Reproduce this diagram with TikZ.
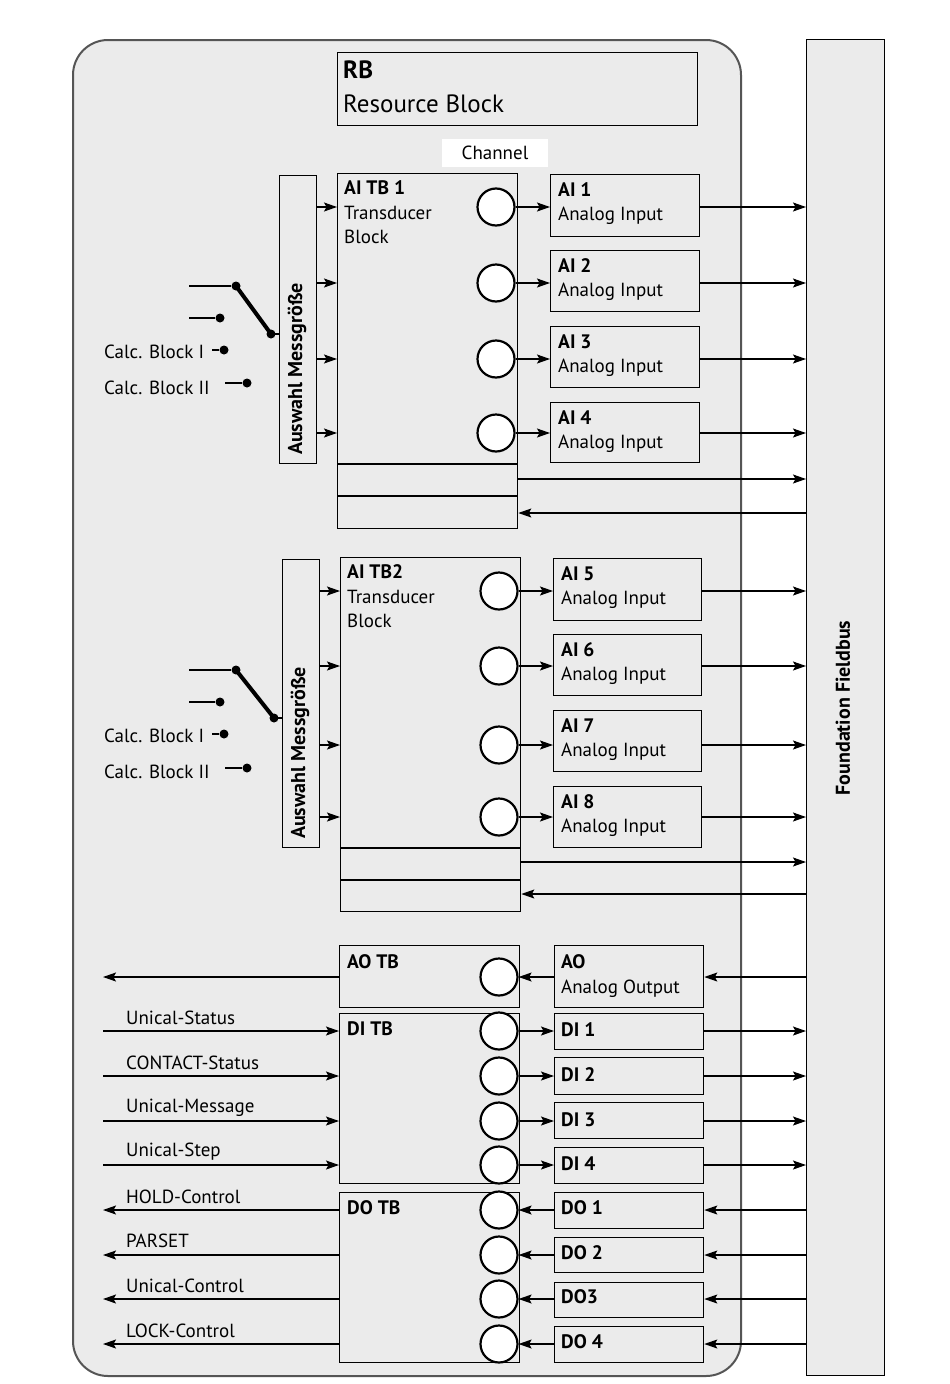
\documentclass[tikz,border=0pt]{standalone}
\usepackage{fontspec}
\setmainfont{PT Sans}
\usetikzlibrary{arrows.meta,calc}
\definecolor{bg}{HTML}{EBEBEB}
\definecolor{rim}{HTML}{555555}
\newcommand\mkblk[5]{\node[blk, minimum width=#4pt, minimum height=#5pt] (#1) at (#2,#3) {};}
\begin{document}
\begin{tikzpicture}[x=1pt,y=-1pt,
  every node/.style={font=\fontsize{19}{22}\selectfont},
  blk/.style={draw=black, line width=1.3pt, rectangle, inner sep=0pt, anchor=north west},
  port/.style={draw=black, fill=white, circle, line width=2.2pt, minimum size=37pt, inner sep=0pt},
  arr/.style={line width=1.2pt, -{Stealth[length=13pt,width=9pt,inset=2.5pt]}},
  txt/.style={anchor=west, inner sep=0pt},
  bt/.style={anchor=west, inner sep=0pt, font=\fontsize{19.5}{22}\selectfont\bfseries},
  rt/.style={rotate=90, font=\fontsize{20}{22}\selectfont\bfseries},
  dot/.style={circle, fill=black, inner sep=0pt, minimum size=9pt},
  wire/.style={line width=2pt},
  lever/.style={line width=4pt},
  hl/.style={line width=1.3pt},
]
\useasboundingbox (0,0) rectangle (950,1384);
\fill[white] (0,0) rectangle (950,1384);

% device and fieldbus
\node[draw=rim, line width=2pt, fill=bg, rounded corners=35pt, anchor=north west,
      minimum width=668pt, minimum height=1336pt, inner sep=0pt] (dev) at (72,39) {};
\node[blk, fill=bg, minimum width=78pt, minimum height=1336pt] (fb) at (806,39) {};
\node[rt] (fbt) at (843,708) {Foundation Fieldbus};

% resource block and channel
\mkblk{rb}{337}{52}{360}{73}
\node[bt, font=\fontsize{25}{28}\selectfont\bfseries] (rbt) at (343,70) {RB};
\node[txt, font=\fontsize{25}{28}\selectfont] (rbt2) at (343,104) {Resource Block};
\node[fill=white, minimum width=106pt, minimum height=28pt, inner sep=0pt] (chan) at (495,153) {Channel};

% ---------- group 1 ----------
\mkblk{tb1}{337}{173}{180}{355}
\mkblk{sel1}{279}{175}{37}{288}
\node[rt] (sel1t) at (297,369) {Auswahl Messgröße};
\node[bt] (tb1a) at (344,188) {AI TB 1};
\node[txt] (tb1b) at (344,213) {Transducer};
\node[txt] (tb1c) at (344,237) {Block};
\coordinate (h11) at (0,464);
\coordinate (h12) at (0,496);
\draw[hl] (tb1.west |- h11) -- (tb1.east |- h11);
\draw[hl] (tb1.west |- h12) -- (tb1.east |- h12);

\mkblk{ai1}{550}{174}{149}{62}
\mkblk{ai2}{550}{250}{149}{61}
\mkblk{ai3}{550}{326}{149}{61}
\mkblk{ai4}{550}{402}{149}{60}
\foreach \n/\y in {1/174,2/250,3/326,4/402}{
  \node[bt] (ai\n a) at (558,\y+16) {AI \n};
  \node[txt] (ai\n b) at (558,\y+42) {Analog Input};
}
\node[port] (c1) at (496,207) {};
\node[port] (c2) at (496,283) {};
\node[port] (c3) at (496,359) {};
\node[port] (c4) at (496,433) {};
\foreach \n in {1,2,3,4}{
  \draw[arr] (c\n.east) -- (ai\n.west |- c\n);
  \draw[arr] (ai\n.east |- c\n) -- (fb.west |- c\n);
  \draw[arr] (sel1.east |- c\n) -- (tb1.west |- c\n);
}
\coordinate (r11) at (0,479);
\coordinate (r12) at (0,513);
\draw[arr] (tb1.east |- r11) -- (fb.west |- r11);
\draw[arr] (fb.west |- r12) -- (tb1.east |- r12);

% switch 1
\coordinate (s1a) at (189,286);
\coordinate (s1b) at (189,318);
\coordinate (s1c) at (212,350);
\coordinate (s1d) at (225,383);
\node[dot] (d11) at (236,286) {};
\node[dot] (d12) at (220,318) {};
\node[dot] (d13) at (224,350) {};
\node[dot] (d14) at (247,383) {};
\node[dot] (d1p) at (271,334) {};
\draw[wire] (s1a) -- (d11);
\draw[wire] (s1b) -- (d12);
\draw[wire] (s1c) -- (d13);
\draw[wire] (s1d) -- (d14);
\draw[lever] (d11.center) -- (d1p.center);
\draw[wire] (d1p.center) -- (sel1.west |- d1p);
\node[txt] (cb11) at (104,352) {Calc. Block I};
\node[txt] (cb12) at (104,388) {Calc. Block II};

% ---------- group 2 ----------
\mkblk{tb2}{340}{557}{180}{354}
\mkblk{sel2}{282}{559}{37}{288}
\node[rt] (sel2t) at (300,753) {Auswahl Messgröße};
\node[bt] (tb2a) at (347,572) {AI TB2};
\node[txt] (tb2b) at (347,597) {Transducer};
\node[txt] (tb2c) at (347,621) {Block};
\coordinate (h21) at (0,848);
\coordinate (h22) at (0,880);
\draw[hl] (tb2.west |- h21) -- (tb2.east |- h21);
\draw[hl] (tb2.west |- h22) -- (tb2.east |- h22);

\mkblk{ai5}{553}{558}{148}{62}
\mkblk{ai6}{553}{634}{148}{61}
\mkblk{ai7}{553}{710}{148}{61}
\mkblk{ai8}{553}{786}{148}{61}
\foreach \n/\y in {5/558,6/634,7/710,8/786}{
  \node[bt] (ai\n a) at (561,\y+16) {AI \n};
  \node[txt] (ai\n b) at (561,\y+42) {Analog Input};
}
\node[port] (c5) at (499,591) {};
\node[port] (c6) at (499,666) {};
\node[port] (c7) at (499,745) {};
\node[port] (c8) at (499,817) {};
\foreach \n in {5,6,7,8}{
  \draw[arr] (c\n.east) -- (ai\n.west |- c\n);
  \draw[arr] (ai\n.east |- c\n) -- (fb.west |- c\n);
  \draw[arr] (sel2.east |- c\n) -- (tb2.west |- c\n);
}
\coordinate (r21) at (0,862);
\coordinate (r22) at (0,894);
\draw[arr] (tb2.east |- r21) -- (fb.west |- r21);
\draw[arr] (fb.west |- r22) -- (tb2.east |- r22);

% switch 2
\coordinate (s2a) at (189,670);
\coordinate (s2b) at (189,702);
\coordinate (s2c) at (212,734);
\coordinate (s2d) at (225,768);
\node[dot] (d21) at (236,670) {};
\node[dot] (d22) at (220,702) {};
\node[dot] (d23) at (224,734) {};
\node[dot] (d24) at (247,768) {};
\node[dot] (d2p) at (274,718) {};
\draw[wire] (s2a) -- (d21);
\draw[wire] (s2b) -- (d22);
\draw[wire] (s2c) -- (d23);
\draw[wire] (s2d) -- (d24);
\draw[lever] (d21.center) -- (d2p.center);
\draw[wire] (d2p.center) -- (sel2.west |- d2p);
\node[txt] (cb21) at (104,736) {Calc. Block I};
\node[txt] (cb22) at (104,772) {Calc. Block II};

% ---------- bottom ----------
\coordinate (Lx) at (103,0);
\mkblk{aotb}{339}{945}{180}{62}
\mkblk{ditb}{339}{1013}{180}{170}
\mkblk{dotb}{339}{1192}{180}{170}
\node[bt] (aotbt) at (347,962) {AO TB};
\node[bt] (ditbt) at (347,1029) {DI TB};
\node[bt] (dotbt) at (347,1208) {DO TB};

\mkblk{ao}{554}{945}{149}{62}
\node[bt] (aot) at (561,962) {AO};
\node[txt] (aot2) at (561,989) {Analog Output};
\mkblk{di1}{554}{1013}{149}{36}
\mkblk{di2}{554}{1057}{149}{37}
\mkblk{di3}{554}{1102}{149}{36}
\mkblk{di4}{554}{1147}{149}{36}
\mkblk{do1}{554}{1192}{149}{36}
\mkblk{do2}{554}{1237}{149}{35}
\mkblk{do3}{554}{1282}{149}{35}
\mkblk{do4}{554}{1326}{149}{36}
\node[bt] (di1t) at (561,1030) {DI 1};
\node[bt] (di2t) at (561,1075) {DI 2};
\node[bt] (di3t) at (561,1120) {DI 3};
\node[bt] (di4t) at (561,1164) {DI 4};
\node[bt] (do1t) at (561,1208) {DO 1};
\node[bt] (do2t) at (561,1253) {DO 2};
\node[bt] (do3t) at (561,1297) {DO3};
\node[bt] (do4t) at (561,1342) {DO 4};

\node[port] (cao) at (499,977) {};
\node[port] (cdi1) at (499,1031) {};
\node[port] (cdi2) at (499,1076) {};
\node[port] (cdi3) at (499,1121) {};
\node[port] (cdi4) at (499,1165) {};
\node[port] (cdo1) at (499,1210) {};
\node[port] (cdo2) at (499,1255) {};
\node[port] (cdo3) at (499,1299) {};
\node[port] (cdo4) at (499,1344) {};

\draw[arr] (aotb.west |- cao) -- (Lx |- cao);
\draw[arr] (ao.west |- cao) -- (cao.east);
\draw[arr] (fb.west |- cao) -- (ao.east |- cao);

\foreach \n in {1,2,3,4}{
  \draw[arr] (Lx |- cdi\n) -- (ditb.west |- cdi\n);
  \draw[arr] (cdi\n.east) -- (di\n.west |- cdi\n);
  \draw[arr] (di\n.east |- cdi\n) -- (fb.west |- cdi\n);
  \draw[arr] (dotb.west |- cdo\n) -- (Lx |- cdo\n);
  \draw[arr] (do\n.west |- cdo\n) -- (cdo\n.east);
  \draw[arr] (fb.west |- cdo\n) -- (do\n.east |- cdo\n);
}
\node[txt] (l1) at (126,1018) {Unical-Status};
\node[txt] (l2) at (126,1063) {CONTACT-Status};
\node[txt] (l3) at (126,1108) {Unical-Message};
\node[txt] (l4) at (126,1152) {Unical-Step};
\node[txt] (l5) at (126,1197) {HOLD-Control};
\node[txt] (l6) at (126,1241) {PARSET};
\node[txt] (l7) at (126,1286) {Unical-Control};
\node[txt] (l8) at (126,1331) {LOCK-Control};
\end{tikzpicture}
\end{document}
